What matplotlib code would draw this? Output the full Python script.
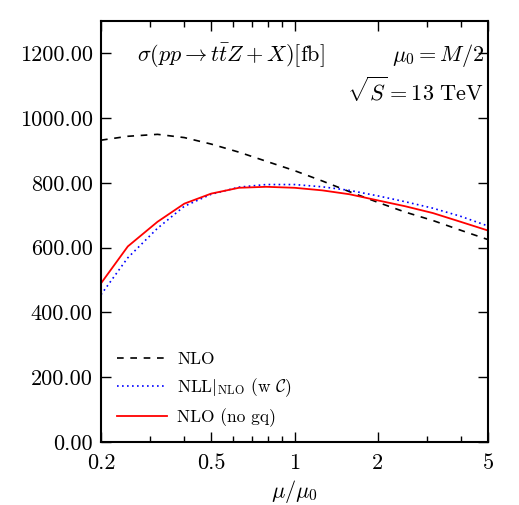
import numpy as np
import matplotlib
matplotlib.use("Agg")
from matplotlib import pyplot as plt
from matplotlib.ticker import FixedLocator, NullFormatter

plt.rcParams['font.family'] = 'serif'
plt.rcParams['font.serif'] = ['cmr10', 'DejaVu Serif']
plt.rcParams['mathtext.fontset'] = 'cm'
plt.rcParams['axes.formatter.use_mathtext'] = True

# scale ratio mu/mu0
mu = [0.2, 0.25, 0.32, 0.40, 0.50, 0.63, 0.79, 1.0, 1.26, 1.58, 2.0, 2.51, 3.16, 3.98, 5.0]

nlo = [932, 944, 950, 940, 920, 895, 867, 838, 806, 773, 740, 710, 684, 654, 625]
nll_nlo = [455, 569, 660, 728, 765, 787, 795, 795, 788, 777, 760, 742, 722, 697, 667]
nlo_nogq = [490, 604, 680, 736, 767, 785, 788, 785, 777, 765, 746, 728, 707, 680, 653]

xticks = [0.2, 0.5, 1, 2, 5]
xticklabels = ['0.2', '0.5', '1', '2', '5']
yticks = [0, 200, 400, 600, 800, 1000, 1200]

fig = plt.figure(figsize=(5.19, 5.05), dpi=100)
ax = fig.add_axes([101/519, 1 - 442/505, 387/519, 421/505])

ax.plot(mu, nlo, color='black', ls=(0, (4, 4)), lw=1.2, label='NLO')
ax.plot(mu, nll_nlo, color='blue', ls=(0, (1, 2)), lw=1.2,
        label=r'NLL$|_{\rm NLO}$ (w $\mathcal{C}$)')
ax.plot(mu, nlo_nogq, color='red', lw=1.3, label='NLO (no gq)')

ax.set_xscale('log')
ax.set_xlim(0.2, 5)
ax.set_ylim(0, 1300)
ax.xaxis.set_major_locator(FixedLocator(xticks))
ax.set_xticklabels(xticklabels)
ax.xaxis.set_minor_locator(FixedLocator([0.3, 0.4, 0.6, 0.7, 0.8, 0.9, 3, 4]))
ax.xaxis.set_minor_formatter(NullFormatter())
ax.set_yticks(yticks)
ax.set_yticklabels(['%.2f' % v for v in yticks])

ax.tick_params(which='both', direction='in', top=True, right=True, labelsize=16)
ax.tick_params(which='major', length=7, width=1)
ax.tick_params(which='minor', length=4, width=1)
ax.tick_params(axis='x', pad=8)
ax.tick_params(axis='y', pad=6)
for s in ax.spines.values():
    s.set_linewidth(1.5)

ax.set_xlabel(r'$\mu/\mu_0$', fontsize=16, labelpad=4)

ax.text(0.093, 0.918, r'$\sigma(pp\to t\bar{t}Z+X)[\mathrm{fb}]$', transform=ax.transAxes,
        fontsize=16, ha='left', va='center')
ax.text(0.99, 0.918, r'$\mu_0=M/2$', transform=ax.transAxes,
        fontsize=16, ha='right', va='center')
ax.text(0.99, 0.835, r'$\sqrt{S}=13\ \mathrm{TeV}$', transform=ax.transAxes,
        fontsize=16, ha='right', va='center')

ax.legend(loc='lower left', frameon=False, fontsize=12.5, handlelength=2.9,
          handletextpad=0.6, borderaxespad=0.5, labelspacing=0.55,
          bbox_to_anchor=(0.0, -0.002))

fig.savefig('out.png', dpi=100)
